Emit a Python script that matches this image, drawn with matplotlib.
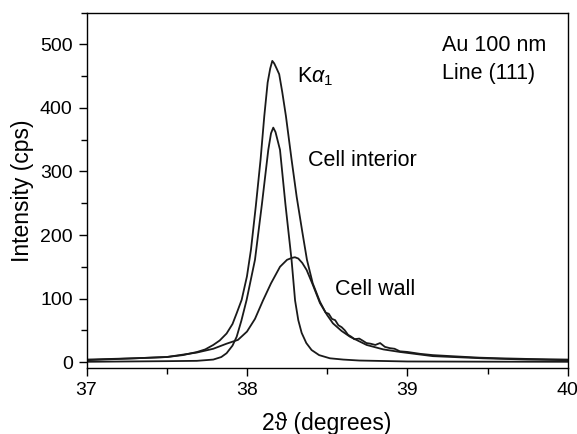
import matplotlib
matplotlib.use('Agg')
import matplotlib.pyplot as plt
from matplotlib.ticker import MultipleLocator

plt.rcParams['font.family'] = ['Liberation Sans', 'DejaVu Sans']
plt.rcParams['mathtext.fontset'] = 'custom'
plt.rcParams['mathtext.rm'] = 'Liberation Sans'
plt.rcParams['mathtext.it'] = 'Liberation Sans:italic'

total_x = [37.0, 37.3, 37.5, 37.6, 37.69, 37.74, 37.79, 37.83, 37.873, 37.91, 37.936,
           37.967, 38.0, 38.025, 38.055, 38.085, 38.108, 38.129, 38.145, 38.158, 38.17,
           38.185, 38.201, 38.22, 38.243, 38.262, 38.278, 38.31, 38.345, 38.374,
           38.41, 38.455, 38.49, 38.51, 38.53, 38.55, 38.57, 38.59, 38.61, 38.63,
           38.65, 38.67, 38.70, 38.72, 38.745, 38.77, 38.80, 38.83, 38.86, 38.89,
           38.92, 38.953, 39.0, 39.08, 39.159, 39.3, 39.45, 39.576, 39.75, 40.0]
total_y = [4, 6, 8, 11, 16, 20, 27, 34, 45, 60, 77,
           98, 135, 177, 245, 319, 387, 440, 462, 474, 470,
           462, 453, 425, 387, 350, 319, 260, 205, 161,
           124, 95, 78, 76, 68, 66, 58, 55, 50, 43,
           40, 36, 37, 34, 30, 29, 27, 30, 24, 22,
           21, 17, 16, 13, 11, 9, 7, 6, 5, 4]

# fitted components
interior_x = [37.0, 37.5, 37.687, 37.79, 37.84, 37.873, 37.91, 37.936, 37.965, 37.998,
              38.05, 38.093, 38.133, 38.15, 38.164, 38.178, 38.19, 38.206, 38.24,
              38.278, 38.30, 38.32, 38.341, 38.37, 38.403, 38.45, 38.517, 38.6, 38.7,
              39.0, 39.5, 40.0]
interior_y = [0.5, 1.5, 2, 4, 8, 14, 26, 40, 65, 98,
              161, 248, 334, 360, 369, 362, 350, 334, 248,
              161, 97, 66, 46, 30, 19, 11, 6, 4, 2.5,
              1, 0.7, 0.5]

wall_x = [37.0, 37.5, 37.687, 37.79, 37.873, 37.944, 38.0, 38.05, 38.1, 38.15,
          38.206, 38.25, 38.28, 38.299, 38.32, 38.345, 38.372, 38.41, 38.455,
          38.5, 38.536, 38.59, 38.642, 38.746, 38.85, 38.953, 39.159, 39.47, 39.75, 40.0]
wall_y = [3, 8, 15, 21, 29, 35, 48, 68, 97, 124,
          150, 161, 164, 165, 163, 156, 145, 122, 93,
          74, 61, 49, 40, 27, 20, 16, 9.4, 6, 4, 3]

fig = plt.figure(figsize=(5.77, 4.34), dpi=100)
ax = fig.add_axes([0.150, 0.151, 0.834, 0.820])

for xs, ys in [(total_x, total_y), (interior_x, interior_y), (wall_x, wall_y)]:
    ax.plot(xs, ys, color='#1a1a1a', lw=1.3)

ax.set_xlim(37, 40)
ax.set_ylim(-10, 550)
ax.xaxis.set_major_locator(MultipleLocator(1))
ax.xaxis.set_minor_locator(MultipleLocator(0.5))
ax.yaxis.set_minor_locator(MultipleLocator(50))
ax.set_yticks([0, 100, 200, 300, 400, 500])
ax.tick_params(which='major', direction='out', length=6, width=1, labelsize=14, pad=4)
ax.tick_params(which='minor', direction='out', length=4, width=1)
for s in ax.spines.values():
    s.set_linewidth(1.0)

ax.set_xlabel('2\u03d1 (degrees)', fontsize=16.5, labelpad=9)
ax.set_ylabel('Intensity (cps)', fontsize=16.5, labelpad=4)

fs = 15.5
ax.text(38.312, 440, r'K$\alpha_1$', fontsize=fs, va='baseline')
ax.text(38.38, 308, 'Cell interior', fontsize=fs, va='baseline')
ax.text(38.548, 106, 'Cell wall', fontsize=fs, va='baseline')
ax.text(39.215, 489, 'Au 100 nm', fontsize=fs, va='baseline')
ax.text(39.215, 445, 'Line (111)', fontsize=fs, va='baseline')

fig.savefig('out.png', dpi=100)
